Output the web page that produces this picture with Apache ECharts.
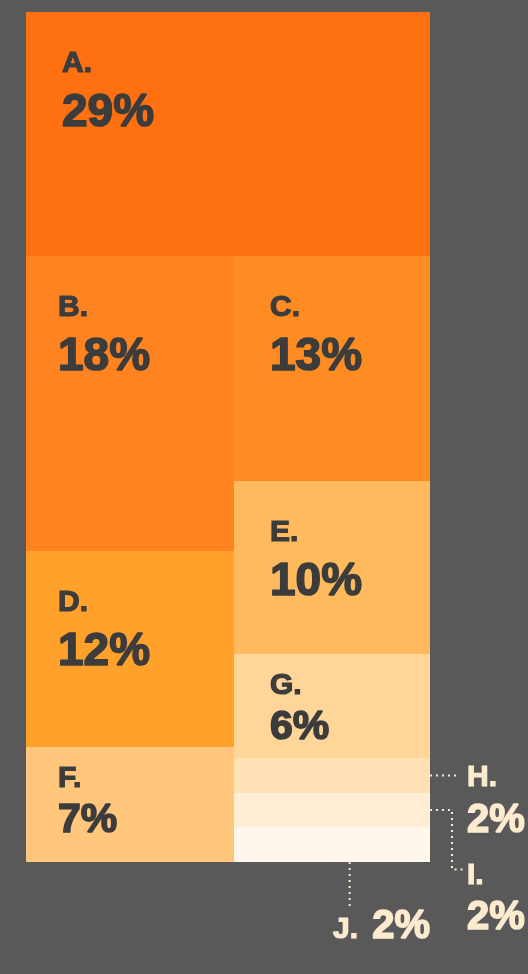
<!DOCTYPE html>
<html>
<head>
<meta charset="utf-8">
<script src="https://cdn.jsdelivr.net/npm/echarts@6/dist/echarts.min.js"></script>
<style>
  html, body { margin: 0; background: #595959; }
  #main { width: 528px; height: 974px; }
</style>
</head>
<body>
<div id="main"></div>
<script>
// shares in %, as printed on the tiles
var names = ['A', 'B', 'C', 'D', 'E', 'F', 'G', 'H', 'I', 'J'];
var shares = [29, 18, 13, 12, 10, 7, 6, 2, 2, 2];

// tile arrangement: one strip on top, then two columns stacked top to bottom
var topStrip = ['A'];
var leftCol = ['B', 'D', 'F'];
var rightCol = ['C', 'E', 'G', 'H', 'I', 'J'];
// tiles too thin for their own label, labelled outside with a leader
var outsideLabels = ['H', 'I', 'J'];

var tileColors = ['#ff7010', '#ff8421', '#ff8c22', '#ffa12a', '#ffba5e',
  '#ffc67c', '#ffd59a', '#ffe1b6', '#ffeed3', '#fff7ec'];
var inkDark = '#3c3c3c';
var inkLight = '#fdebd0';
var FONT = '"Liberation Sans", Arial, sans-serif';

function shareOf(n) { return shares[names.indexOf(n)]; }
function sumOf(list) { return list.reduce(function (s, n) { return s + shareOf(n); }, 0); }

// slice and dice in unit square (0..1), areas proportional to the shares
var layout = {};
(function () {
  var total = sumOf(topStrip) + sumOf(leftCol) + sumOf(rightCol);
  var topH = sumOf(topStrip) / total;
  layout.A = { x0: 0, x1: 1, y0: 0, y1: topH, block: 'top' };
  var restSum = sumOf(leftCol) + sumOf(rightCol);
  var splitX = sumOf(leftCol) / restSum;
  function stack(list, x0, x1, block) {
    var colSum = sumOf(list), y = topH;
    list.forEach(function (n) {
      var h = (1 - topH) * shareOf(n) / colSum;
      layout[n] = { x0: x0, x1: x1, y0: y, y1: y + h, block: block };
      y += h;
    });
  }
  stack(leftCol, 0, splitX, 'left');
  stack(rightCol, splitX, 1, 'right');
})();

var seriesData = names.map(function (n, i) {
  var r = layout[n];
  return [r.x0, r.y0, r.x1, r.y1, i];
});

// place text so that its cap top lands on capTop
function txt(str, x, capTop, size, color, align) {
  return {
    type: 'text',
    x: x,
    y: capTop - 0.11 * size,
    style: {
      text: str, fill: color, fontSize: size, fontWeight: 'bold',
      fontFamily: FONT, align: align || 'left', verticalAlign: 'top',
      stroke: color, lineWidth: size > 35 ? 1.6 : 1.2   // fake a heavier weight
    }
  };
}
function dots(points) {
  return {
    type: 'polyline',
    shape: { points: points },
    style: { stroke: inkLight, lineWidth: 2, lineDash: [2, 4], fill: null }
  };
}

var insetX = { top: 36, left: 32, right: 36 };

function renderItem(params, api) {
  var i = api.value(4);
  var name = names[i];
  var p0 = api.coord([api.value(0), api.value(1)]);
  var p1 = api.coord([api.value(2), api.value(3)]);
  // snap to whole pixels so neighbouring tiles don't leave seams
  var x = Math.round(p0[0]), y = Math.round(p0[1]);
  var w = Math.round(p1[0]) - x, h = Math.round(p1[1]) - y;
  var kids = [{
    type: 'rect',
    shape: { x: x, y: y, width: w, height: h },
    style: { fill: tileColors[i] }
  }];
  var letter = name + '.';
  var pct = shares[i] + '%';
  var k = outsideLabels.indexOf(name);

  if (k < 0) {
    var lx = x + insetX[layout[name].block];
    var big = h > 150;
    var top = y + (big ? 40 : 20);
    kids.push(txt(letter, lx, top, 30, inkDark));
    kids.push(txt(pct, lx, top + (big ? 43 : 38), big ? 46 : 41, inkDark));
  } else if (k === 0) {
    var ly = y + h / 2;
    kids.push(dots([[x + w, ly], [x + w + 27, ly]]));
    kids.push(txt(letter, x + w + 37, ly - 9, 30, inkLight));
    kids.push(txt(pct, x + w + 37, ly + 30, 40, inkLight));
  } else if (k === 1) {
    var ly2 = y + h / 2;
    var hPrev = layout[outsideLabels[0]];
    var prevMid = api.coord([0, (hPrev.y0 + hPrev.y1) / 2])[1];
    var lt = prevMid + 89;
    kids.push(dots([[x + w, ly2], [x + w + 22, ly2], [x + w + 22, lt + 5], [x + w + 35, lt + 5]]));
    kids.push(txt(letter, x + w + 37, lt, 30, inkLight));
    kids.push(txt(pct, x + w + 37, lt + 38, 40, inkLight));
  } else {
    var bx = x + 0.59 * w, by = y + h;
    kids.push(dots([[bx, by], [bx, by + 45]]));
    kids.push(txt(pct, x + w, by + 49, 40, inkLight, 'right'));
    kids.push(txt(letter, x + w - 97, by + 56, 30, inkLight));
  }
  return { type: 'group', children: kids };
}

var myChart = echarts.init(document.getElementById('main'));
var option = {
  backgroundColor: '#595959',
  animation: false,
  grid: { left: 26, top: 12, width: 404, height: 850 },
  xAxis: { type: 'value', min: 0, max: 1, show: false },
  yAxis: { type: 'value', min: 0, max: 1, inverse: true, show: false },
  series: [{
    type: 'custom',
    renderItem: renderItem,
    data: seriesData,
    clip: false
  }]
};
myChart.setOption(option);
window.onresize = function () {
  myChart.resize();
};
</script>
</body>
</html>
